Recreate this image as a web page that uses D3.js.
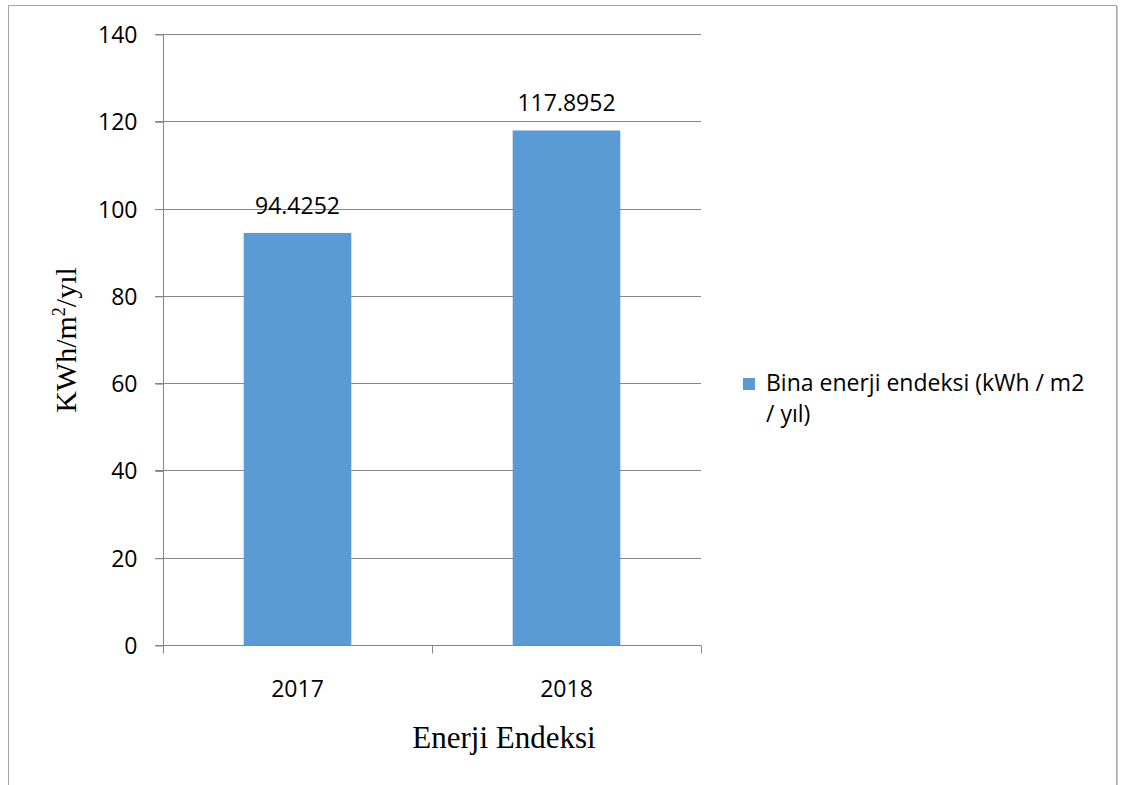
<!DOCTYPE html>
<html><head><meta charset="utf-8">
<script src="https://cdn.jsdelivr.net/npm/d3@7"></script>
<style>body{margin:0;background:#fff}svg{display:block}</style>
</head><body>
<svg id="c" width="1123" height="785"></svg>
<script>
const categories = ["2017", "2018"];
const values = [94.4252, 117.8952];
const valueLabels = ["94.4252", "117.8952"];
const yTicks = [0, 20, 40, 60, 80, 100, 120, 140];
const seriesName = ["Bina enerji endeksi (kWh / m2", "/ yıl)"];
const xTitle = "Enerji Endeksi";

(function () {
const svg = d3.select("#c");
const font = "'Open Sans', sans-serif";
const serif = "'Liberation Serif', 'Times New Roman', serif";
const barColor = "#5B9BD5";
const axisColor = "#868686";

// outer frame
svg.append("path").attr("d", "M8.5,785 V5.5 H1116.5 V785").attr("fill", "none").attr("stroke", "#a6a6a6").attr("stroke-width", 1);
svg.append("line").attr("x1", 1117.5).attr("x2", 1117.5).attr("y1", 6).attr("y2", 785).attr("stroke", "#c8c8c8");

const pL = 163, pR = 701, pT = 34, pB = 645;
const x = d3.scaleBand().domain(categories).range([pL, pR]).paddingInner(0.6).paddingOuter(0.3);
const xb = d3.scaleBand().domain(categories).range([pL, pR]);
const y = d3.scaleLinear().domain([0, 140]).range([pB, pT]);

// gridlines
svg.append("g").selectAll("line").data(yTicks.filter(d => d > 0)).join("line")
  .attr("x1", pL - 8).attr("x2", pR).attr("y1", d => Math.round(y(d)) + 0.5).attr("y2", d => Math.round(y(d)) + 0.5)
  .attr("stroke", axisColor).attr("stroke-width", 1);

// bars
svg.append("g").selectAll("rect").data(values).join("rect")
  .attr("x", (d, i) => x(categories[i])).attr("width", x.bandwidth())
  .attr("y", d => y(d)).attr("height", d => y(0) - y(d)).attr("fill", barColor);

// y axis
const yAxis = d3.axisLeft(y).tickValues(yTicks).tickSize(8).tickPadding(18);
const gy = svg.append("g").attr("transform", `translate(${pL + 0.5},0.5)`).call(yAxis);
gy.select(".domain").attr("stroke", axisColor).attr("d", `M-8,${pT}H0V${pB}`);
gy.selectAll(".tick line").attr("stroke", axisColor);
gy.selectAll(".tick text").attr("font-family", font).attr("font-size", 23).attr("fill", "#000").attr("dy", "0.35em");

// x axis
const gx = svg.append("g").attr("transform", `translate(0,${pB + 0.5})`);
gx.append("line").attr("x1", pL - 8).attr("x2", pR).attr("stroke", axisColor);
gx.selectAll("line.t").data([...categories.map(c => xb(c)), pR]).join("line").attr("class", "t")
  .attr("x1", d => Math.round(d) + 0.5).attr("x2", d => Math.round(d) + 0.5).attr("y1", 0).attr("y2", 8).attr("stroke", axisColor);
gx.selectAll("text").data(categories).join("text")
  .attr("x", d => xb(d) + xb.bandwidth() / 2).attr("y", 51)
  .attr("text-anchor", "middle").attr("font-family", font).attr("font-size", 23).text(d => d);

// value labels
svg.append("g").selectAll("text").data(values).join("text")
  .attr("x", (d, i) => x(categories[i]) + x.bandwidth() / 2).attr("y", d => y(d) - 19)
  .attr("text-anchor", "middle").attr("font-family", font).attr("font-size", 23).text((d, i) => valueLabels[i]);

// y title
const yt = svg.append("text").attr("transform", "translate(76,340) rotate(-90)")
  .attr("text-anchor", "middle").attr("font-family", serif).attr("font-size", 30);
yt.append("tspan").text("KWh/m");
yt.append("tspan").attr("dy", -11).attr("font-size", 18).text("2");
yt.append("tspan").attr("dy", 11).text("/yıl");

// x title
svg.append("text").attr("x", 504).attr("y", 748).attr("text-anchor", "middle")
  .attr("font-family", serif).attr("font-size", 31).text(xTitle);

// legend
svg.append("rect").attr("x", 743).attr("y", 378).attr("width", 12).attr("height", 12).attr("fill", barColor);
svg.append("g").selectAll("text").data(seriesName).join("text")
  .attr("x", 766).attr("y", (d, i) => 391 + i * 31)
  .attr("font-family", font).attr("font-size", 23).text(d => d);
})();
</script>
</body></html>
